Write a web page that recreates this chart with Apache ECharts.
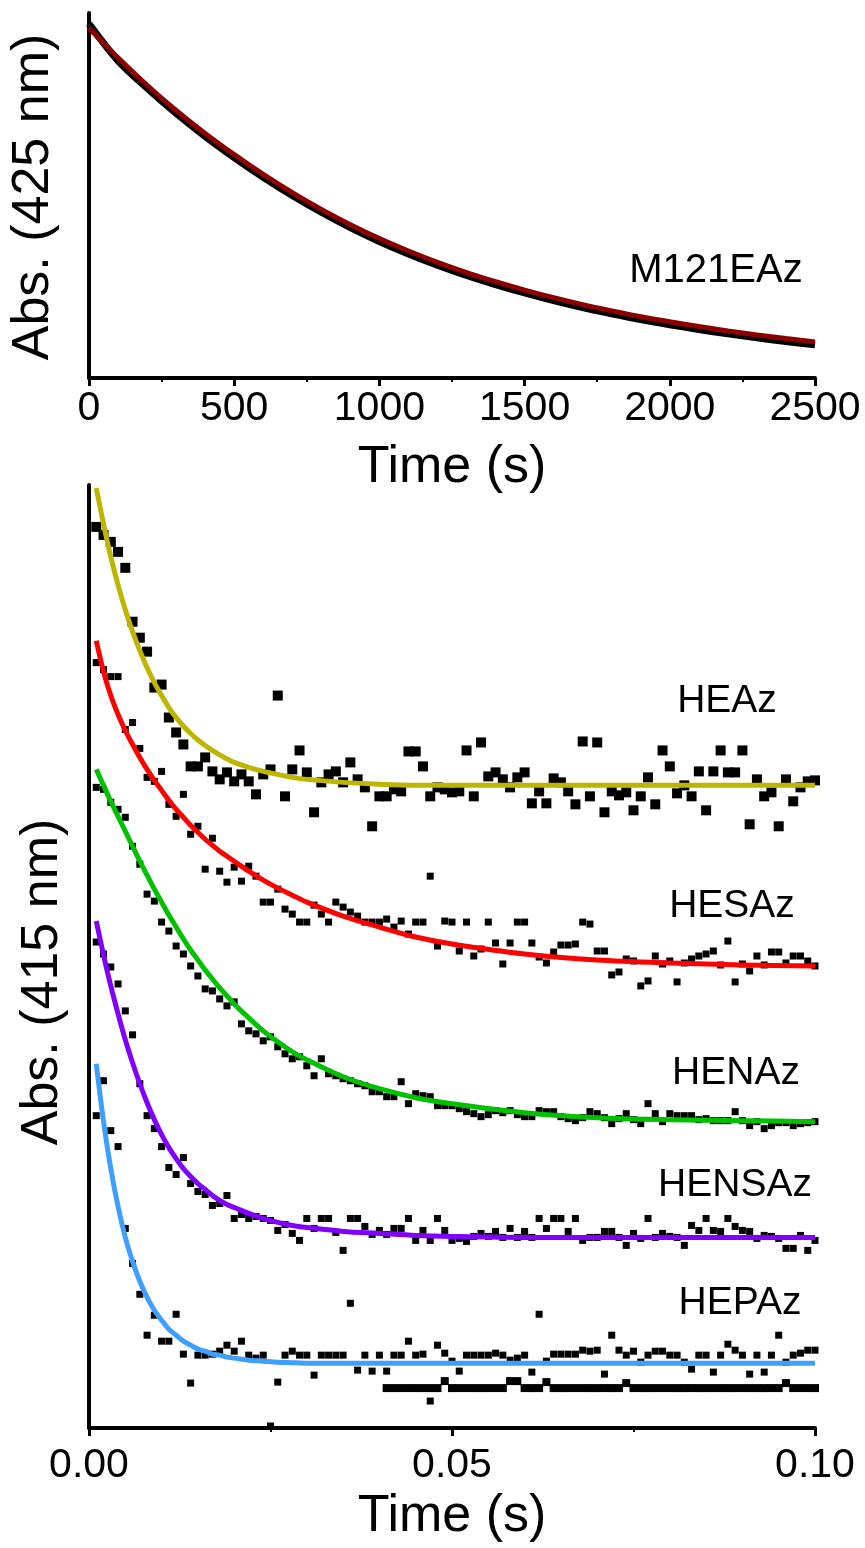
<!DOCTYPE html>
<html>
<head>
<meta charset="utf-8">
<script src="https://cdn.jsdelivr.net/npm/echarts@6/dist/echarts.min.js"></script>
<style>
  html, body { margin: 0; padding: 0; background: #ffffff; }
  #chart { width: 865px; height: 1548px; }
</style>
</head>
<body>
<div id="chart"></div>
<script>
// ---------- Upper panel: slow decay of M121EAz at 425 nm ----------
const slowTimes = [0, 100, 200, 300, 400, 500, 600, 700, 800, 900, 1000, 1100, 1200,
  1300, 1400, 1500, 1600, 1700, 1800, 1900, 2000, 2100, 2200, 2300, 2400, 2500];
const m121eazTrace = [0.970, 0.869, 0.794, 0.725, 0.662, 0.604, 0.550, 0.500, 0.454, 0.412,
  0.374, 0.340, 0.309, 0.281, 0.256, 0.233, 0.212, 0.193, 0.176, 0.160, 0.146, 0.133,
  0.121, 0.110, 0.100, 0.091];
const m121eazFit = [0.959, 0.877, 0.802, 0.733, 0.670, 0.612, 0.558, 0.508, 0.462, 0.420,
  0.382, 0.348, 0.317, 0.289, 0.264, 0.241, 0.220, 0.201, 0.184, 0.168, 0.154, 0.141,
  0.129, 0.118, 0.108, 0.099];

// ---------- Lower panel: stopped-flow traces at 415 nm (1 ms sampling) ----------
const sampleTimes = [
  0.001, 0.002, 0.003, 0.004, 0.005, 0.006, 0.007, 0.008, 0.009, 0.010,
  0.011, 0.012, 0.013, 0.014, 0.015, 0.016, 0.017, 0.018, 0.019, 0.020,
  0.021, 0.022, 0.023, 0.024, 0.025, 0.026, 0.027, 0.028, 0.029, 0.030,
  0.031, 0.032, 0.033, 0.034, 0.035, 0.036, 0.037, 0.038, 0.039, 0.040,
  0.041, 0.042, 0.043, 0.044, 0.045, 0.046, 0.047, 0.048, 0.049, 0.050,
  0.051, 0.052, 0.053, 0.054, 0.055, 0.056, 0.057, 0.058, 0.059, 0.060,
  0.061, 0.062, 0.063, 0.064, 0.065, 0.066, 0.067, 0.068, 0.069, 0.070,
  0.071, 0.072, 0.073, 0.074, 0.075, 0.076, 0.077, 0.078, 0.079, 0.080,
  0.081, 0.082, 0.083, 0.084, 0.085, 0.086, 0.087, 0.088, 0.089, 0.090,
  0.091, 0.092, 0.093, 0.094, 0.095, 0.096, 0.097, 0.098, 0.099, 0.100];

const heazData = [
  0.903, 0.895, 0.888, 0.878, 0.862, 0.808, 0.792, 0.778, 0.742, 0.745,
  0.712, 0.697, 0.685, 0.663, 0.663, 0.672, 0.658, 0.650, 0.657, 0.648,
  0.655, 0.648, 0.635, 0.655, 0.660, 0.734, 0.633, 0.660, 0.679, 0.657,
  0.617, 0.647, 0.655, 0.658, 0.647, 0.667, 0.650, 0.642, 0.603, 0.633,
  0.633, 0.640, 0.638, 0.678, 0.678, 0.663, 0.633, 0.642, 0.640, 0.637,
  0.638, 0.679, 0.633, 0.687, 0.653, 0.657, 0.650, 0.642, 0.652, 0.657,
  0.626, 0.638, 0.626, 0.651, 0.647, 0.638, 0.625, 0.688, 0.633, 0.687,
  0.617, 0.638, 0.634, 0.637, 0.619, 0.633, 0.652, 0.625, 0.679, 0.663,
  0.636, 0.644, 0.633, 0.658, 0.619, 0.658, 0.679, 0.657, 0.657, 0.679,
  0.605, 0.650, 0.633, 0.637, 0.603, 0.650, 0.628, 0.642, 0.648, 0.649];

const hesazData = [
  0.767, 0.760, 0.753, 0.753, 0.700, 0.707, 0.681, 0.652, 0.648, 0.658,
  0.625, 0.613, 0.635, 0.595, 0.603, 0.560, 0.591, 0.558, 0.547, 0.562,
  0.548, 0.563, 0.553, 0.527, 0.527, 0.540, 0.520, 0.515, 0.507, 0.507,
  0.524, 0.515, 0.507, 0.527, 0.522, 0.517, 0.513, 0.507, 0.507, 0.507,
  0.510, 0.502, 0.508, 0.495, 0.507, 0.507, 0.553, 0.483, 0.508, 0.507,
  0.478, 0.507, 0.473, 0.480, 0.507, 0.486, 0.465, 0.486, 0.507, 0.507,
  0.486, 0.472, 0.466, 0.477, 0.484, 0.484, 0.485, 0.507, 0.505, 0.478,
  0.478, 0.454, 0.457, 0.470, 0.468, 0.443, 0.448, 0.473, 0.465, 0.468,
  0.447, 0.466, 0.470, 0.473, 0.475, 0.478, 0.464, 0.488, 0.447, 0.465,
  0.458, 0.473, 0.464, 0.477, 0.477, 0.466, 0.473, 0.473, 0.468, 0.463];

const henazData = [
  0.642, 0.640, 0.627, 0.620, 0.612, 0.583, 0.565, 0.535, 0.528, 0.507,
  0.498, 0.483, 0.475, 0.463, 0.453, 0.440, 0.438, 0.430, 0.423, 0.427,
  0.405, 0.398, 0.395, 0.388, 0.392, 0.382, 0.375, 0.370, 0.372, 0.363,
  0.353, 0.370, 0.355, 0.353, 0.350, 0.348, 0.345, 0.343, 0.337, 0.337,
  0.332, 0.332, 0.347, 0.325, 0.335, 0.333, 0.332, 0.323, 0.323, 0.323,
  0.320, 0.317, 0.315, 0.312, 0.314, 0.318, 0.316, 0.318, 0.314, 0.312,
  0.312, 0.318, 0.317, 0.317, 0.312, 0.310, 0.308, 0.311, 0.317, 0.315,
  0.311, 0.305, 0.310, 0.315, 0.309, 0.305, 0.325, 0.315, 0.307, 0.315,
  0.313, 0.313, 0.313, 0.309, 0.310, 0.308, 0.308, 0.308, 0.317, 0.308,
  0.303, 0.307, 0.300, 0.303, 0.306, 0.306, 0.303, 0.305, 0.306, 0.307];

const hensazData = [
  0.487, 0.475, 0.462, 0.445, 0.418, 0.394, 0.345, 0.313, 0.300, 0.282,
  0.261, 0.254, 0.271, 0.245, 0.237, 0.234, 0.223, 0.225, 0.233, 0.210,
  0.214, 0.210, 0.212, 0.210, 0.208, 0.198, 0.204, 0.195, 0.188, 0.210,
  0.200, 0.210, 0.210, 0.196, 0.178, 0.210, 0.210, 0.202, 0.194, 0.198,
  0.194, 0.200, 0.200, 0.210, 0.188, 0.198, 0.188, 0.210, 0.198, 0.188,
  0.190, 0.187, 0.192, 0.195, 0.192, 0.197, 0.191, 0.200, 0.191, 0.197,
  0.191, 0.210, 0.200, 0.210, 0.210, 0.197, 0.210, 0.188, 0.191, 0.191,
  0.197, 0.197, 0.191, 0.183, 0.195, 0.190, 0.210, 0.191, 0.195, 0.192,
  0.191, 0.183, 0.203, 0.198, 0.210, 0.198, 0.197, 0.210, 0.202, 0.198,
  0.197, 0.190, 0.193, 0.192, 0.190, 0.180, 0.180, 0.193, 0.178, 0.188];

const hepazData = [
  0.313, 0.348, 0.298, 0.282, 0.200, 0.165, 0.134, 0.093, 0.113, 0.087,
  0.087, 0.114, 0.074, 0.045, 0.073, 0.073, 0.074, 0.077, 0.083, 0.077,
  0.087, 0.073, 0.070, 0.073, 0.002, 0.046, 0.073, 0.077, 0.073, 0.073,
  0.053, 0.073, 0.073, 0.073, 0.073, 0.125, 0.058, 0.073, 0.057, 0.073,
  0.057, 0.073, 0.073, 0.087, 0.073, 0.074, 0.027, 0.083, 0.075, 0.067,
  0.057, 0.073, 0.073, 0.073, 0.073, 0.075, 0.073, 0.068, 0.070, 0.073,
  0.056, 0.114, 0.067, 0.074, 0.074, 0.074, 0.074, 0.078, 0.077, 0.078,
  0.054, 0.093, 0.078, 0.073, 0.077, 0.066, 0.073, 0.077, 0.077, 0.073,
  0.073, 0.066, 0.059, 0.073, 0.073, 0.056, 0.073, 0.084, 0.078, 0.073,
  0.054, 0.073, 0.056, 0.073, 0.093, 0.066, 0.073, 0.075, 0.078, 0.078];

// dense baseline record drawn under the HEPAz trace (starts at 41 ms)
const baselineData = [
  null, null, null, null, null, null, null, null, null, null,
  null, null, null, null, null, null, null, null, null, null,
  null, null, null, null, null, null, null, null, null, null,
  null, null, null, null, null, null, null, null, null, null,
  0.040, 0.040, 0.040, 0.040, 0.040, 0.040, 0.040, 0.040, 0.047, 0.040,
  0.040, 0.040, 0.040, 0.040, 0.040, 0.040, 0.040, 0.047, 0.047, 0.040,
  0.040, 0.040, 0.046, 0.040, 0.040, 0.040, 0.040, 0.040, 0.040, 0.040,
  0.040, 0.040, 0.040, 0.045, 0.040, 0.040, 0.040, 0.040, 0.040, 0.040,
  0.040, 0.040, 0.040, 0.040, 0.040, 0.040, 0.040, 0.040, 0.040, 0.040,
  0.040, 0.040, 0.040, 0.040, 0.040, 0.045, 0.040, 0.040, 0.040, 0.040];

// single-exponential fits
const fitTimes = [0.001, 0.002, 0.003, 0.004, 0.005, 0.006, 0.007, 0.008, 0.009, 0.010,
  0.011, 0.012, 0.013, 0.014, 0.015, 0.016, 0.017, 0.018, 0.019, 0.020,
  0.022, 0.024, 0.026, 0.028, 0.030, 0.035, 0.040, 0.045, 0.050, 0.060,
  0.070, 0.080, 0.090, 0.100];
const heazFit = [0.942, 0.906, 0.873, 0.845, 0.820, 0.798, 0.779, 0.762, 0.747, 0.734,
  0.722, 0.712, 0.7035, 0.696, 0.6895, 0.684, 0.679, 0.6745, 0.6705, 0.667,
  0.662, 0.658, 0.655, 0.652, 0.650, 0.647, 0.645, 0.644, 0.644, 0.644,
  0.644, 0.644, 0.644, 0.644];
const hesazFit = [0.789, 0.758, 0.734, 0.715, 0.699, 0.685, 0.672, 0.660, 0.649, 0.639,
  0.629, 0.620, 0.612, 0.604, 0.597, 0.590, 0.584, 0.578, 0.573, 0.568,
  0.558, 0.549, 0.541, 0.534, 0.527, 0.513, 0.502, 0.492, 0.485, 0.475,
  0.469, 0.466, 0.464, 0.463];
const henazFit = [0.660, 0.644, 0.628, 0.613, 0.598, 0.583, 0.568, 0.554, 0.540, 0.527,
  0.514, 0.502, 0.490, 0.479, 0.469, 0.459, 0.450, 0.441, 0.433, 0.425,
  0.411, 0.398, 0.387, 0.377, 0.369, 0.352, 0.340, 0.331, 0.325, 0.316,
  0.311, 0.309, 0.308, 0.307];
const hensazFit = [0.508, 0.474, 0.443, 0.415, 0.389, 0.366, 0.345, 0.326, 0.309, 0.294,
  0.281, 0.270, 0.260, 0.252, 0.245, 0.239, 0.233, 0.228, 0.224, 0.221,
  0.215, 0.210, 0.206, 0.203, 0.201, 0.197, 0.195, 0.193, 0.192, 0.191,
  0.191, 0.191, 0.191, 0.191];
const hepazFit = [0.365, 0.307, 0.260, 0.222, 0.191, 0.167, 0.147, 0.131, 0.118, 0.108,
  0.099, 0.093, 0.087, 0.083, 0.079, 0.077, 0.074, 0.073, 0.071, 0.070,
  0.068, 0.067, 0.066, 0.0655, 0.065, 0.065, 0.065, 0.065, 0.065, 0.065,
  0.065, 0.065, 0.065, 0.065];

const FONT = '"Liberation Sans", Arial, Helvetica, sans-serif';

function pairs(times, values) {
  const out = [];
  values.forEach((v, i) => { if (v !== null) out.push([times[i], v]); });
  return out;
}

function scatter(name, values, size) {
  return {
    name, type: 'scatter', xAxisIndex: 1, yAxisIndex: 1,
    data: pairs(sampleTimes, values),
    symbol: 'rect', symbolSize: size, clip: false,
    itemStyle: { color: '#000000', opacity: 1 }, z: 2
  };
}

function fitLine(name, values, color) {
  return {
    name, type: 'line', xAxisIndex: 1, yAxisIndex: 1,
    data: pairs(fitTimes, values),
    showSymbol: false, smooth: 0.3, clip: false,
    lineStyle: { color, width: 5, cap: 'butt', join: 'round' }, z: 3
  };
}

function valueAxis(gridIndex, min, max) {
  return {
    type: 'value', gridIndex, min, max,
    axisLine: { show: true, lineStyle: { color: '#000', width: 4 } },
    axisTick: { show: false }, axisLabel: { show: false },
    splitLine: { show: false }
  };
}

function timeAxis(gridIndex, max, interval, labelMargin, nameGap, formatter) {
  return {
    type: 'value', gridIndex, min: 0, max, interval,
    name: 'Time (s)', nameLocation: 'middle', nameGap,
    nameTextStyle: { fontFamily: FONT, fontSize: 52, color: '#000' },
    axisLine: { onZero: false, lineStyle: { color: '#000', width: 4 } },
    axisTick: { show: true, length: 8, lineStyle: { color: '#000', width: 3 } },
    minorTick: { show: true, splitNumber: 2, length: 4, lineStyle: { color: '#000', width: 2 } },
    splitLine: { show: false }, minorSplitLine: { show: false },
    axisLabel: {
      fontFamily: FONT, fontSize: 41, color: '#000', margin: labelMargin,
      showMinLabel: true, showMaxLabel: true, formatter
    }
  };
}

function tag(text, x, y, size) {
  return {
    type: 'text', x, y, z: 10,
    style: { text, fontFamily: FONT, fontSize: size, fill: '#000',
      textAlign: 'center', textVerticalAlign: 'middle' }
  };
}

function yTitle(text, x, y) {
  return {
    type: 'text', x, y, rotation: Math.PI / 2, z: 10,
    style: { text, fontFamily: FONT, fontSize: 52, fill: '#000',
      textAlign: 'center', textVerticalAlign: 'middle' }
  };
}

const chart = echarts.init(document.getElementById('chart'), null, { renderer: 'canvas' });

chart.setOption({
  animation: false,
  backgroundColor: '#ffffff',
  grid: [
    { left: 89, right: 50, top: 13, height: 365 },
    { left: 89, right: 50, top: 485, height: 945 }
  ],
  xAxis: [
    timeAxis(0, 2500, 500, 10, 64, v => String(v)),
    timeAxis(1, 0.1, 0.05, 17, 63, v => v.toFixed(2))
  ],
  yAxis: [valueAxis(0, 0, 1), valueAxis(1, 0, 0.945)],
  series: [
    {
      name: 'M121EAz', type: 'line', xAxisIndex: 0, yAxisIndex: 0,
      data: pairs(slowTimes, m121eazTrace), showSymbol: false, smooth: 0.3,
      lineStyle: { color: '#000000', width: 7 }, z: 2
    },
    {
      name: 'M121EAz fit', type: 'line', xAxisIndex: 0, yAxisIndex: 0,
      data: pairs(slowTimes, m121eazFit), showSymbol: false, smooth: 0.3,
      lineStyle: { color: '#8a0000', width: 5 }, z: 3
    },
    scatter('HEAz', heazData, 10),
    scatter('HESAz', hesazData, 7),
    scatter('HENAz', henazData, 7),
    scatter('HENSAz', hensazData, 7),
    scatter('HEPAz', hepazData, 7),
    scatter('baseline', baselineData, 8),
    fitLine('HEAz fit', heazFit, '#bdb500'),
    fitLine('HESAz fit', hesazFit, '#ff0000'),
    fitLine('HENAz fit', henazFit, '#00c000'),
    fitLine('HENSAz fit', hensazFit, '#7f00ff'),
    fitLine('HEPAz fit', hepazFit, '#3f9fff')
  ],
  graphic: [
    yTitle('Abs. (425 nm)', 34, 197),
    yTitle('Abs. (415 nm)', 43, 982),
    tag('M121EAz', 716, 271, 40),
    tag('HEAz', 727, 701, 39),
    tag('HESAz', 732, 906, 39),
    tag('HENAz', 736, 1073, 39),
    tag('HENSAz', 735, 1185, 39),
    tag('HEPAz', 740, 1303, 39)
  ]
});
</script>
</body>
</html>
